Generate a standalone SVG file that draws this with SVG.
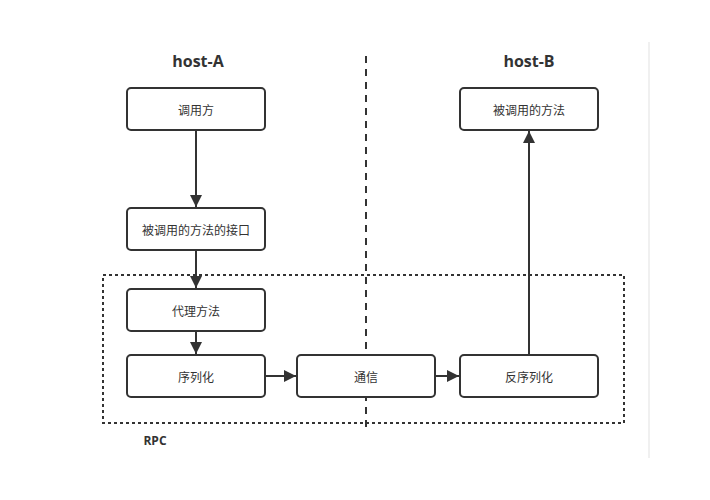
<svg xmlns="http://www.w3.org/2000/svg" width="710" height="500" viewBox="0 0 710 500">
<style>
.box rect{fill:#fff;stroke:#333;stroke-width:2}
.box text{font-family:"Noto Sans CJK SC","Noto Sans",sans-serif;font-size:12px;fill:#333;text-anchor:middle;dominant-baseline:central}
.lbl{font-family:"Open Sans","Noto Sans","Noto Sans CJK SC",sans-serif;font-weight:bold;fill:#333;text-anchor:middle}
.con{stroke:#333;stroke-width:2;fill:none}
</style>
<defs>
<marker id="arr" viewBox="0 0 10 10" refX="10" refY="5" markerWidth="10" markerHeight="10" markerUnits="userSpaceOnUse" orient="auto">
<path d="M0,0 L10,5 L0,10 z" fill="#333"/>
</marker>
<marker id="arrB" viewBox="0 0 12 12" refX="12" refY="6" markerWidth="12" markerHeight="12" markerUnits="userSpaceOnUse" orient="auto">
<path d="M0,0 L12,6 L0,12 z" fill="#333"/>
</marker>
</defs>
<rect width="710" height="500" fill="#fff"/>
<line x1="649" y1="42" x2="649" y2="458" stroke="#f0f0f0" stroke-width="2"/>
<rect id="rpc-region" x="103" y="275" width="521" height="148" fill="none" stroke="#333" stroke-width="2" stroke-dasharray="3 3"/>
<line id="divider" x1="366" y1="56" x2="366" y2="428" stroke="#333" stroke-width="2" stroke-dasharray="7 6"/>
<text class="lbl" x="198" y="67" font-size="16">host-A</text>
<text class="lbl" x="529" y="67" font-size="16">host-B</text>
<text class="lbl" x="155" y="445" font-size="12">RPC</text>
<g id="connectors">
<line class="con" x1="196" y1="130" x2="196" y2="207" marker-end="url(#arrB)"/>
<line class="con" x1="196" y1="250" x2="196" y2="288" marker-end="url(#arrB)"/>
<line class="con" x1="196" y1="331" x2="196" y2="354" marker-end="url(#arrB)"/>
<line class="con" x1="265" y1="376" x2="296" y2="376" marker-end="url(#arrB)"/>
<line class="con" x1="435" y1="376" x2="459" y2="376" marker-end="url(#arrB)"/>
<line class="con" x1="529" y1="355" x2="529" y2="131" marker-end="url(#arrB)"/>
</g>
<g id="caller" class="box"><rect x="127" y="88" width="138" height="42" rx="4"/><text x="196" y="109">调用方</text></g>
<g id="interface" class="box"><rect x="127" y="208" width="138" height="42" rx="4"/><text x="196" y="229">被调用的方法的接口</text></g>
<g id="proxy" class="box"><rect x="127" y="289" width="138" height="42" rx="4"/><text x="196" y="310">代理方法</text></g>
<g id="serialize" class="box"><rect x="127" y="355" width="138" height="42" rx="4"/><text x="196" y="376">序列化</text></g>
<g id="comm" class="box"><rect x="297" y="355" width="138" height="42" rx="4"/><text x="366" y="376">通信</text></g>
<g id="deserialize" class="box"><rect x="460" y="355" width="138" height="42" rx="4"/><text x="529" y="376">反序列化</text></g>
<g id="callee" class="box"><rect x="460" y="88" width="138" height="42" rx="4"/><text x="529" y="109">被调用的方法</text></g>
</svg>
